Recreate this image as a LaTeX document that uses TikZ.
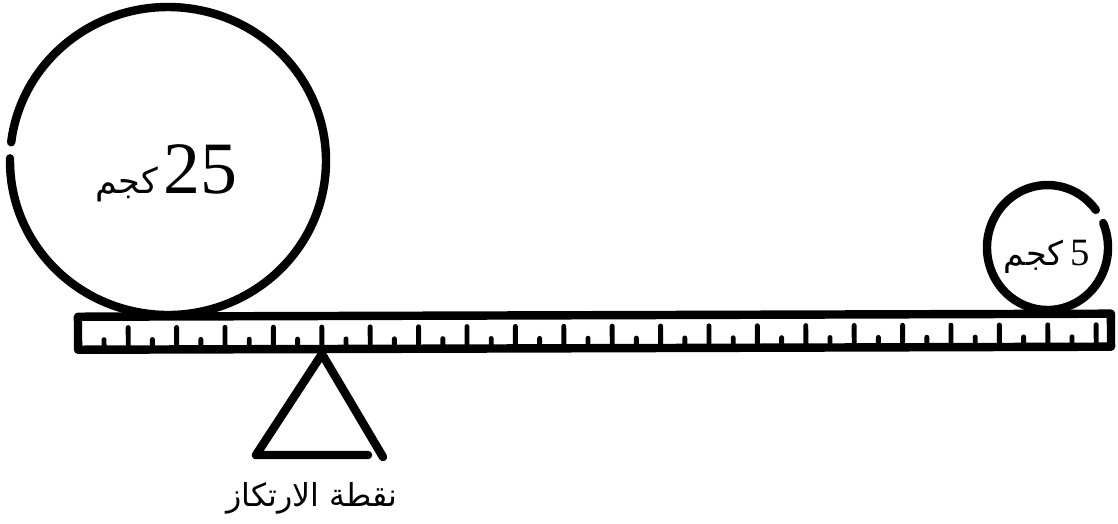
\documentclass[tikz,border=0pt]{standalone}
\usepackage{fontspec}
\setmainfont{Liberation Serif}
\newfontfamily\arabicfont[Script=Arabic]{DejaVu Sans}
\TeXXeTstate=1
\usetikzlibrary{positioning}

\begin{document}
\begin{tikzpicture}[x=0.01cm, y=-0.01cm,
                outline/.style={line width=2.4pt, line cap=round, line join=round},
                tick/.style={line width=1.4pt, line cap=round},
                weightnum/.style={inner sep=0pt, anchor=base},
                unitlabel/.style={inner sep=0pt, font=\arabicfont, anchor=base east}]

                \useasboundingbox (0,0) rectangle (1118,523);

                % Weights
                \coordinate (bigc) at (168,161);
                \coordinate (smallc) at (1047.5,247.5);
                \draw[outline] ([shift={(187:158 and 154)}]bigc) arc[start angle=187, end angle=541, x radius=158, y radius=154];
                \draw[outline] ([shift={(337:60.5 and 62.5)}]smallc) arc[start angle=337, end angle=683, x radius=60.5, y radius=62.5];

                \node[weightnum, font=\fontsize{21}{24}\selectfont] (bignum) at (200,193) {25};
                \node[unitlabel, font=\arabicfont\fontsize{10}{12}\selectfont] (bigunit) at ([xshift=-1pt]bignum.base west) {\beginR كجم\endR};
                \node[weightnum, font=\fontsize{11}{13}\selectfont] (smallnum) at (1080,265) {5};
                \node[unitlabel, font=\arabicfont\fontsize{9.5}{11}\selectfont] (smallunit) at ([xshift=-1.5pt]smallnum.base west) {\beginR كجم\endR};

                % Beam
                \begin{scope}[rotate around={0.17:(322,333)}]
                    \draw[outline] (78,316) rectangle (1111,349);
                    \foreach \k in {0,...,20} {
                        \draw[tick] (104+48.4*\k,349) -- (104+48.4*\k,339);
                        \draw[tick] (128.2+48.4*\k,349) -- (128.2+48.4*\k,327);
                    }
                \end{scope}

                % Fulcrum
                \coordinate (apex) at (322,354);
                \coordinate (baseleft) at (256,455);
                \coordinate (baseright) at (383,457);
                \draw[outline] (apex) -- (baseleft) -- (368,455);
                \draw[outline] (apex) -- (baseright);
                \node[font=\arabicfont\fontsize{9}{11}\selectfont] (pivot) at (312,498) {\beginR نقطة الارتكاز\endR};
\end{tikzpicture}
\end{document}
